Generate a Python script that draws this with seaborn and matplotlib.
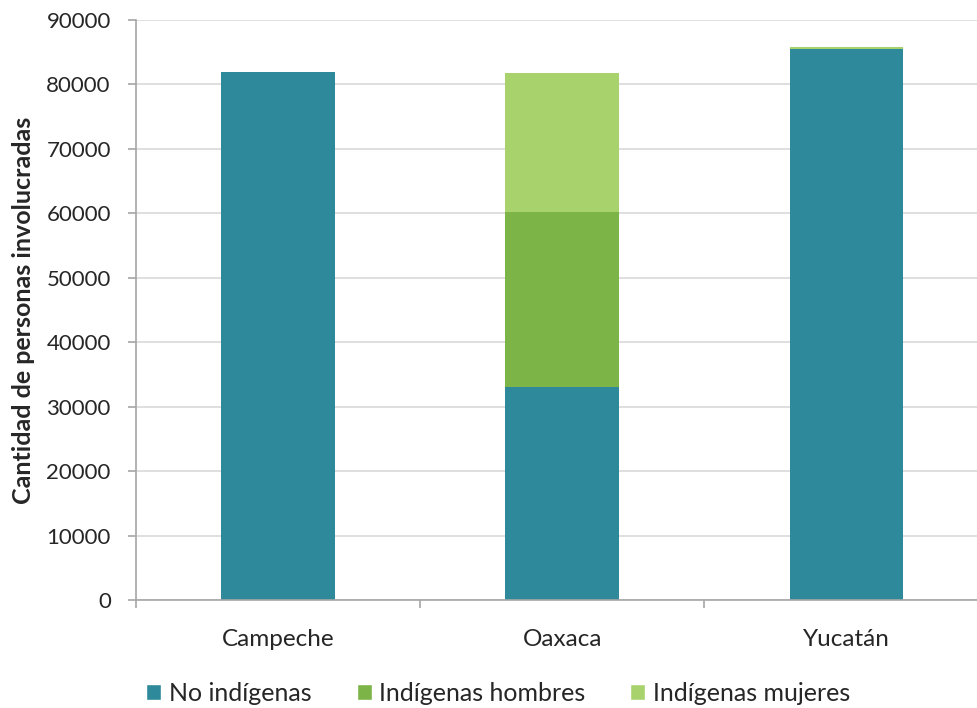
import matplotlib
matplotlib.use("Agg")
import matplotlib.pyplot as plt
import matplotlib.ticker as ticker
from matplotlib.patches import Patch
import pandas as pd
import seaborn as sns

estados = ["Campeche", "Oaxaca", "Yucatán"]
no_indigenas = [81900, 33100, 85400]
indigenas_hombres = [0, 27100, 150]
indigenas_mujeres = [0, 21600, 200]

colores = {
    "No indígenas": "#2E8A9B",
    "Indígenas hombres": "#7CB448",
    "Indígenas mujeres": "#A8D26C",
}

sns.set_style("white")
plt.rcParams["font.family"] = ["Lato", "DejaVu Sans"]

df = pd.DataFrame({
    "estado": estados,
    "no": no_indigenas,
    "hom": indigenas_hombres,
    "muj": indigenas_mujeres,
})
df["tope_hom"] = df["no"] + df["hom"]
df["tope_muj"] = df["tope_hom"] + df["muj"]

fig = plt.figure(figsize=(9.77, 7.08), dpi=100)
# axes runs a bit past the right edge, like the original
ax = fig.add_axes([0.139, 0.1525, 0.873, 0.8195])

# stacked by overlaying cumulative totals
for col, key in [("tope_muj", "Indígenas mujeres"),
                 ("tope_hom", "Indígenas hombres"),
                 ("no", "No indígenas")]:
    sns.barplot(data=df, x="estado", y=col, color=colores[key],
                width=0.4, saturation=1, linewidth=0, ax=ax)

ax.set_ylim(0, 90000)
ax.set_xlim(-0.5, 2.5)
ax.yaxis.set_major_locator(ticker.MultipleLocator(10000))
ax.yaxis.grid(True, color="#d9d9d9", linewidth=1.2)
ax.set_axisbelow(True)

for s in ["top", "right"]:
    ax.spines[s].set_visible(False)
for s in ["left", "bottom"]:
    ax.spines[s].set_color("#a6a6a6")
    ax.spines[s].set_linewidth(1.2)

ax.tick_params(axis="y", which="major", left=True, length=6, width=1.2,
               color="#a6a6a6", labelsize=16, pad=12)
ax.tick_params(axis="x", which="major", bottom=False, labelsize=17.5, pad=17)
ax.set_xticks([-0.5, 0.5, 1.5], minor=True)
ax.tick_params(axis="x", which="minor", bottom=True, length=6, width=1.2, color="#a6a6a6")

ax.set_xlabel("")
ax.set_ylabel("Cantidad de personas involucradas", fontsize=18, fontweight="bold", labelpad=8)

handles = [Patch(facecolor=c, label=k) for k, c in colores.items()]
fig.legend(handles=handles, loc="lower center", bbox_to_anchor=(0.51, -0.027), ncol=3,
           frameon=False, fontsize=18, handlelength=0.6, handleheight=0.6,
           handletextpad=0.3, columnspacing=1.8)

fig.savefig("out.png", dpi=100)
